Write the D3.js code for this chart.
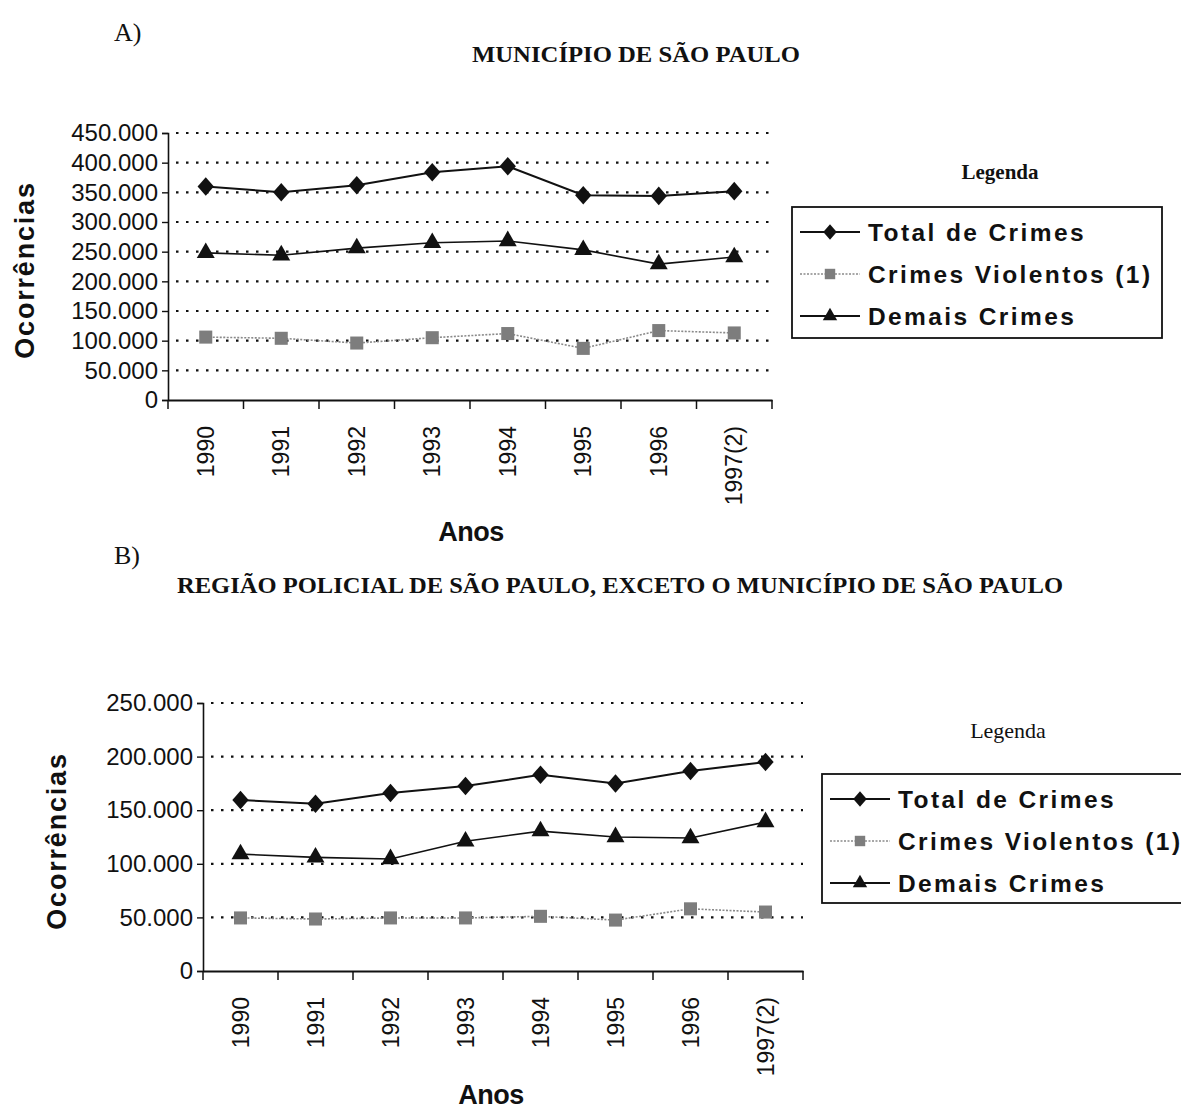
<!DOCTYPE html>
<html>
<head>
<meta charset="utf-8">
<script src="https://cdn.jsdelivr.net/npm/d3@7"></script>
<style>
  html, body { margin: 0; padding: 0; background: #fff; }
  svg { display: block; }
</style>
</head>
<body>
<svg id="chart" width="1181" height="1111"></svg>
<script>
// ---- DATA ----
const years = ["1990", "1991", "1992", "1993", "1994", "1995", "1996", "1997(2)"];
const seriesNames = ["Total de Crimes", "Crimes Violentos (1)", "Demais Crimes"];

// A) Município de São Paulo
const totalA     = [360000, 350000, 362000, 384000, 394000, 345000, 344000, 352000];
const violentosA = [106000, 104000,  96000, 105000, 112000,  87000, 117000, 113000];
const demaisA    = [248000, 244000, 256000, 265000, 268000, 253000, 229000, 241000];
const ticksA     = [0, 50000, 100000, 150000, 200000, 250000, 300000, 350000, 400000, 450000];

// B) Região Policial de São Paulo, exceto o Município
const totalB     = [159500, 156000, 166000, 172500, 183000, 175000, 186500, 195000];
const violentosB = [ 49500,  48500,  49500,  49500,  51000,  47500,  58000,  55000];
const demaisB    = [109000, 106000, 104500, 121000, 130500, 125000, 124000, 139000];
const ticksB     = [0, 50000, 100000, 150000, 200000, 250000];

const svg = d3.select("#chart");
const fmt = v => v === 0 ? "0" : d3.format(",")(v).replace(/,/g, ".");
const SANS = "Liberation Sans, Arial, sans-serif";
const SERIF = "Liberation Serif, Times New Roman, serif";

function drawChart(cfg) {
  const x = d3.scaleBand().domain(years).range([cfg.left, cfg.right]);
  const y = d3.scaleLinear().domain([0, cfg.max]).range([cfg.bottom, cfg.top]);
  const g = svg.append("g");

  // gridlines
  g.selectAll("line.grid").data(cfg.ticks.filter(t => t > 0)).join("line")
    .attr("x1", cfg.left + 8).attr("x2", cfg.right)
    .attr("y1", d => y(d)).attr("y2", d => y(d))
    .attr("stroke", "#111").attr("stroke-width", 2.2)
    .attr("stroke-dasharray", "2.5,7.5");

  // y axis
  const yAxis = d3.axisLeft(y).tickValues(cfg.ticks).tickFormat(fmt).tickSize(6).tickPadding(4);
  const ya = g.append("g").attr("transform", `translate(${cfg.left},0)`).call(yAxis);
  ya.select(".domain").attr("stroke", "#111").attr("stroke-width", 1.6);
  ya.selectAll(".tick line").attr("stroke", "#111").attr("stroke-width", 1.4);
  ya.selectAll(".tick text").attr("font-family", SANS)
    .attr("font-size", 24).attr("fill", "#111");

  // x axis
  const xAxis = d3.axisBottom(x).tickSize(0).tickFormat("");
  const xa = g.append("g").attr("transform", `translate(0,${cfg.bottom})`).call(xAxis);
  xa.select(".domain").attr("stroke", "#111").attr("stroke-width", 2);
  const bounds = years.map(d => x(d)).concat([cfg.right]);
  xa.selectAll("line.xt").data(bounds).join("line")
    .attr("x1", d => d).attr("x2", d => d).attr("y1", 0).attr("y2", 9)
    .attr("stroke", "#111").attr("stroke-width", 1.5);
  xa.selectAll("text.xl").data(years).join("text")
    .attr("transform", d => `translate(${x(d) + x.bandwidth() / 2 + 8},26) rotate(-90)`)
    .attr("text-anchor", "end")
    .attr("font-family", SANS)
    .attr("font-size", 23).attr("fill", "#111")
    .text(d => d);

  // axis titles
  g.append("text")
    .attr("transform", `translate(${cfg.yTitleX},${cfg.yTitleY}) rotate(-90)`)
    .attr("text-anchor", "middle")
    .attr("font-family", SANS)
    .attr("font-weight", "bold").attr("font-size", 27).attr("letter-spacing", 1.8)
    .attr("fill", "#111").text("Ocorrências");
  g.append("text")
    .attr("x", cfg.xTitleX).attr("y", cfg.xTitleY)
    .attr("text-anchor", "middle")
    .attr("font-family", SANS)
    .attr("font-weight", "bold").attr("font-size", 27).attr("letter-spacing", -0.5)
    .attr("fill", "#111").text("Anos");

  const cx = d => x(d) + x.bandwidth() / 2;
  const series = [
    { name: seriesNames[0], values: cfg.total, color: "#111", width: 2, dash: null, marker: "diamond" },
    { name: seriesNames[1], values: cfg.violentos, color: "#8a8a8a", width: 1.6, dash: "2,1.5", marker: "square" },
    { name: seriesNames[2], values: cfg.demais, color: "#111", width: 1.6, dash: null, marker: "triangle" }
  ];
  const line = d3.line().x(d => cx(d.year)).y(d => y(d.value));
  const symbols = {
    diamond: d3.symbol().type(d3.symbolDiamond).size(110),
    square: d3.symbol().type(d3.symbolSquare).size(170),
    triangle: d3.symbol().type(d3.symbolTriangle).size(140)
  };
  const markerFill = s => s.marker === "square" ? "#7d7d7d" : "#111";
  const markerScale = s => s.marker === "diamond" ? " scale(1.45,0.95)" : "";

  series.forEach(s => {
    const pts = years.map((yr, i) => ({ year: yr, value: s.values[i] }));
    g.append("path").datum(pts).attr("d", line)
      .attr("fill", "none").attr("stroke", s.color).attr("stroke-width", s.width)
      .attr("stroke-dasharray", s.dash);
    g.selectAll(null).data(pts).join("path")
      .attr("d", symbols[s.marker])
      .attr("transform", d => `translate(${cx(d.year)},${y(d.value)})` + markerScale(s))
      .attr("fill", markerFill(s));
  });

  // legend
  svg.append("text").attr("x", cfg.legTitleX).attr("y", cfg.legTitleY)
    .attr("text-anchor", "middle")
    .attr("font-family", SERIF)
    .attr("font-weight", cfg.legTitleBold ? "bold" : "normal")
    .attr("font-size", cfg.legTitleSize).attr("fill", "#111").text("Legenda");
  const lg = svg.append("g").attr("transform", `translate(${cfg.legX},${cfg.legY})`);
  lg.append("rect").attr("x", 0).attr("y", 0).attr("width", cfg.legW).attr("height", cfg.legH)
    .attr("fill", "#fff").attr("stroke", "#111").attr("stroke-width", 1.8);
  series.forEach((s, i) => {
    const ry = 25 + i * 42;
    lg.append("line").attr("x1", 8).attr("x2", 68).attr("y1", ry).attr("y2", ry)
      .attr("stroke", s.color).attr("stroke-width", s.marker === "square" ? 1.4 : 1.8)
      .attr("stroke-dasharray", s.dash);
    lg.append("path").attr("d", symbols[s.marker])
      .attr("transform", `translate(38,${ry})` + (s.marker === "diamond" ? " scale(1.2,0.8)" : " scale(0.8)"))
      .attr("fill", markerFill(s));
    lg.append("text").attr("x", 76).attr("y", ry + 9)
      .attr("font-family", SANS)
      .attr("font-weight", "bold").attr("font-size", 24.5).attr("letter-spacing", 2.4)
      .attr("fill", "#111").text(s.name);
  });
}

// headings
svg.append("text").attr("x", 114).attr("y", 41)
  .attr("font-family", SERIF).attr("font-size", 26)
  .attr("fill", "#111").text("A)");
svg.append("text").attr("x", 472).attr("y", 62).attr("textLength", 328).attr("lengthAdjust", "spacingAndGlyphs")
  .attr("font-family", SERIF).attr("font-weight", "bold").attr("font-size", 23)
  .attr("fill", "#111").text("MUNICÍPIO DE SÃO PAULO");
svg.append("text").attr("x", 114).attr("y", 564)
  .attr("font-family", SERIF).attr("font-size", 26)
  .attr("fill", "#111").text("B)");
svg.append("text").attr("x", 177).attr("y", 593).attr("textLength", 886).attr("lengthAdjust", "spacingAndGlyphs")
  .attr("font-family", SERIF).attr("font-weight", "bold").attr("font-size", 23)
  .attr("fill", "#111").text("REGIÃO POLICIAL DE SÃO PAULO, EXCETO O MUNICÍPIO DE SÃO PAULO");

drawChart({
  left: 168, right: 772, top: 133, bottom: 400, max: 450000, ticks: ticksA,
  total: totalA, violentos: violentosA, demais: demaisA,
  yTitleX: 34, yTitleY: 270, xTitleX: 471, xTitleY: 541,
  legTitleX: 1000, legTitleY: 179, legTitleBold: true, legTitleSize: 21,
  legX: 792, legY: 207, legW: 370, legH: 131
});

drawChart({
  left: 203, right: 803, top: 703, bottom: 971, max: 250000, ticks: ticksB,
  total: totalB, violentos: violentosB, demais: demaisB,
  yTitleX: 66, yTitleY: 841, xTitleX: 491, xTitleY: 1104,
  legTitleX: 1008, legTitleY: 738, legTitleBold: false, legTitleSize: 22,
  legX: 822, legY: 774, legW: 370, legH: 129
});
</script>
</body>
</html>
